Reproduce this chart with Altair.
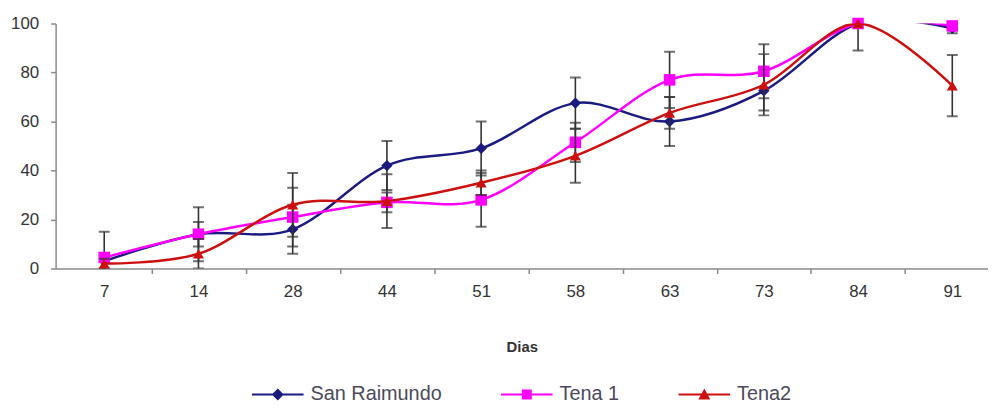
import json
import altair as alt
import pandas as pd

# ---- data ----
days = ["7", "14", "28", "44", "51", "58", "63", "73", "84", "91"]
series = ["San Raimundo", "Tena 1", "Tena2"]
san_raimundo = [3, 14, 16, 42, 49, 67.5, 60, 72.5, 100, 98]
tena1 = [4.5, 14, 21, 27, 28, 51.5, 77, 80.5, 100, 99]
tena2 = [2, 6, 26, 27.5, 35, 46, 63.5, 75, 100, 74.6]
san_raimundo_err = [3, 5, 10, 10, 11, 10.5, 10, 8, 11, 2]
tena1_err = [10.5, 11, 12, 4, 11, 8, 11.5, 11, 0, 0]
tena2_err = [2, 6, 13, 11, 5, 11, 6.5, 12.5, 0, 12.5]
y_ticks = [0, 20, 40, 60, 80, 100]

colors = ["#1a1a80", "#ff00ff", "#cc1010"]
shapes = ["diamond", "square", "triangle-up"]
marker_sizes = [130, 135, 125]
legend_paths = [
    "M-2.6,-0.1H2.6V0.1H-2.6Z M0,-0.6L0.6,0L0,0.6L-0.6,0Z",
    "M-2.6,-0.1H2.6V0.1H-2.6Z M-0.5,-0.5H0.5V0.5H-0.5Z",
    "M-2.6,-0.1H2.6V0.1H-2.6Z M0,-0.6L0.6,0.5H-0.6Z",
]

values = [san_raimundo, tena1, tena2]
errors = [san_raimundo_err, tena1_err, tena2_err]
rows = []
for s, vals, errs in zip(series, values, errors):
    for i, (d, v, e) in enumerate(zip(days, vals, errs)):
        rows.append({"series": s, "day": d, "idx": i, "v": v, "err": e})
df = pd.DataFrame(rows)

FONT = "Liberation Sans"
label_expr = "datum.value % 1 === 0 ? " + json.dumps(days) + "[datum.value] : ''"

x_scale = alt.Scale(domain=[-0.516, 9.379], nice=False, zero=False)
x_axis = alt.Axis(
    values=[k / 2 for k in range(0, 19)],
    labelExpr=label_expr,
    title="Dias",
    grid=False,
    tickOpacity={"condition": {"test": "datum.value % 1 === 0", "value": 0}, "value": 1},
    tickSize=5,
    labelPadding=10,
    titlePadding=41,
    labelFlush=False,
    labelOverlap=False,
)
y_scale = alt.Scale(domain=[0, 100], nice=False)
y_axis = alt.Axis(values=y_ticks, title=None, grid=False, tickSize=5, labelPadding=12)

X = alt.X("idx:Q", scale=x_scale, axis=x_axis)
Y = alt.Y("v:Q", scale=y_scale, axis=y_axis)

base = alt.Chart(df)
layers = []
for s, col, shp, sz in zip(series, colors, shapes, marker_sizes):
    sub = base.transform_filter(alt.datum.series == s)
    err = sub.transform_filter("datum.err > 0").transform_calculate(
        lo="datum.v - datum.err", hi="datum.v + datum.err"
    )
    rule = err.mark_rule(color="#333333", strokeWidth=1.6, clip=True).encode(
        x=X, y=alt.Y("lo:Q", scale=y_scale, axis=y_axis), y2="hi:Q"
    )
    cap_hi = err.mark_tick(color="#333333", thickness=2, size=11, orient="horizontal", clip=True).encode(
        x=X, y=alt.Y("hi:Q", scale=y_scale, axis=y_axis)
    )
    cap_lo = err.mark_tick(color="#333333", thickness=2, size=11, orient="horizontal", clip=True).encode(
        x=X, y=alt.Y("lo:Q", scale=y_scale, axis=y_axis)
    )
    line = sub.mark_line(interpolate="cardinal", strokeWidth=2.5, clip=True, color=col).encode(
        x=X, y=Y
    )
    pts = sub.mark_point(shape=shp, filled=True, size=sz, opacity=1, color=col).encode(
        x=X, y=Y
    )
    layers += [rule, cap_hi, cap_lo, line, pts]

# legend-only layer (no rows drawn; explicit domains keep the legend entries)
legend_layer = base.transform_filter("false").mark_point(
    filled=True, size=400, opacity=1, strokeWidth=0
).encode(
    x=X,
    y=Y,
    fill=alt.Fill(
        "series:N",
        scale=alt.Scale(domain=series, range=colors),
        legend=alt.Legend(
            title=None,
            orient="none",
            legendX=214,
            legendY=364,
            direction="horizontal",
            symbolSize=400,
            symbolStrokeWidth=0,
            symbolOpacity=1,
            labelOffset=23,
            columnPadding=59,
            labelFontSize=20,
            labelFont=FONT,
            labelColor="#4a4a5a",
        ),
    ),
    shape=alt.Shape("series:N", scale=alt.Scale(domain=series, range=legend_paths)),
)
layers.append(legend_layer)

chart = (
    alt.layer(*layers)
    .properties(
        width=940,
        height=247,
        padding={"left": 2, "top": 5, "right": 0, "bottom": 0},
    )
    .configure_view(stroke=None)
    .configure_axis(
        labelFont=FONT,
        labelFontSize=17,
        labelColor="#333333",
        domainColor="#8a8a8a",
        tickColor="#8a8a8a",
        domainWidth=1.5,
        tickWidth=1.5,
        titleFont=FONT,
        titleFontSize=15,
        titleFontWeight="bold",
        titleColor="#333333",
    )
)

chart.save("out.html", embed_options={"renderer": "svg", "actions": False})
